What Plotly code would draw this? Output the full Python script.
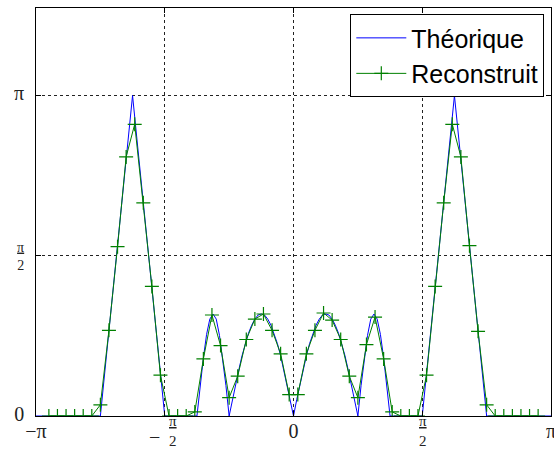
import math
import plotly.graph_objects as go

PI = math.pi

# Theoretical curve: x in units of pi, y in radians
X_THEO = [-1.0, -0.75, -0.625, -0.5, -0.375,
          -0.3625, -0.35, -0.3375, -0.325, -0.3125, -0.3, -0.2875, -0.275, -0.2625, -0.25,
          -0.2375, -0.225, -0.2125, -0.2, -0.1875, -0.175, -0.1625, -0.15, -0.1375, -0.125,
          -0.1125, -0.1, -0.0875, -0.075, -0.0625, -0.05, -0.0375, -0.025, -0.0125, 0.0,
          0.0125, 0.025, 0.0375, 0.05, 0.0625, 0.075, 0.0875, 0.1, 0.1125, 0.125,
          0.1375, 0.15, 0.1625, 0.175, 0.1875, 0.2, 0.2125, 0.225, 0.2375, 0.25,
          0.2625, 0.275, 0.2875, 0.3, 0.3125, 0.325, 0.3375, 0.35, 0.3625, 0.375,
          0.5, 0.625, 0.75, 1.0]
Y_THEO = [0.0, 0.0, 3.1416, 0.0, 0.0,
          0.31, 0.57, 0.80, 0.95, 1.0, 0.95, 0.79, 0.56, 0.30, 0.0,
          0.16, 0.31, 0.45, 0.59, 0.71, 0.81, 0.89, 0.95, 0.99, 1.0,
          0.99, 0.95, 0.89, 0.81, 0.71, 0.59, 0.45, 0.31, 0.16, 0.0,
          0.16, 0.31, 0.45, 0.59, 0.71, 0.81, 0.89, 0.95, 0.99, 1.0,
          0.99, 0.95, 0.89, 0.81, 0.71, 0.59, 0.45, 0.31, 0.16, 0.0,
          0.30, 0.56, 0.79, 0.95, 1.0, 0.95, 0.80, 0.57, 0.31, 0.0,
          0.0, 3.1416, 0.0, 0.0]

# Reconstructed samples: x in units of pi, y in radians
X_REC = [-0.95, -0.9167, -0.8833, -0.85, -0.8167, -0.7833, -0.75, -0.7167, -0.6833, -0.65,
         -0.6167, -0.5833, -0.55, -0.5167, -0.4833, -0.45, -0.4167, -0.3833, -0.35, -0.3167,
         -0.2833, -0.25, -0.2167, -0.1833, -0.15, -0.1167, -0.0833, -0.05, -0.0167,
         0.0167, 0.05, 0.0833, 0.1167, 0.15, 0.1833, 0.2167, 0.25, 0.2833, 0.3167,
         0.35, 0.3833, 0.4167, 0.45, 0.4833, 0.5167, 0.55, 0.5833, 0.6167, 0.65,
         0.6833, 0.7167, 0.75, 0.7833, 0.8167, 0.85, 0.8833, 0.9167, 0.95]
Y_REC = [0.0, 0.0, 0.0, 0.0, 0.0, 0.0, 0.11, 0.84, 1.66, 2.54,
         2.86, 2.09, 1.27, 0.40, 0.0, 0.0, 0.0, 0.04, 0.56, 0.99,
         0.69, 0.18, 0.39, 0.75, 0.95, 1.00, 0.84, 0.61, 0.21,
         0.21, 0.61, 0.84, 1.01, 0.94, 0.75, 0.39, 0.18, 0.70, 0.97,
         0.56, 0.04, 0.0, 0.0, 0.0, 0.40, 1.27, 2.09, 2.86, 2.54,
         1.67, 0.83, 0.11, 0.0, 0.0, 0.0, 0.0, 0.0, 0.0]

SERIES_NAMES = ["Théorique", "Reconstruit"]

SERIF = "Liberation Serif, Times New Roman, serif"
BIG = "<span style='font-size:20px'>{}</span>"
FRAC = "<u>π</u><br>2"

X_TICKS = [-1, -0.5, 0, 0.5, 1]
X_TICK_TEXT = [BIG.format("−π"), "", BIG.format("0"), "", BIG.format("π")]
X_FRAC_TICKS = [-0.5, 0.5]
X_FRAC_SIGNS = ["−", ""]
Y_TICKS_PI = [0, 0.5, 1]
Y_TICK_TEXT = [BIG.format("0"), FRAC, BIG.format("π")]
Y_RANGE = [0, 4]

fig = go.Figure()
fig.add_trace(go.Scatter(x=X_THEO, y=Y_THEO, mode="lines", name=SERIES_NAMES[0],
                         line=dict(color="#0000FF", width=1)))
fig.add_trace(go.Scatter(x=X_REC, y=Y_REC, mode="lines+markers", name=SERIES_NAMES[1],
                         line=dict(color="#008000", width=1),
                         marker=dict(symbol="cross-thin-open", size=10,
                                     line=dict(color="#008000", width=1.2))))

axis_common = dict(showline=True, mirror="ticks", linecolor="black", linewidth=1,
                   ticks="inside", ticklen=5, tickcolor="black", automargin=False,
                   showgrid=True, gridcolor="#222222", griddash="3px,3px", gridwidth=1,
                   zeroline=False, ticklabeloverflow="allow",
                   tickfont=dict(family=SERIF, size=14, color="#222"))

fig.update_xaxes(range=[-1, 1], tickmode="array", tickvals=X_TICKS, ticktext=X_TICK_TEXT,
                 ticklabelstandoff=4, **axis_common)
fig.update_yaxes(range=Y_RANGE, tickmode="array", tickvals=[v * PI for v in Y_TICKS_PI],
                 ticktext=Y_TICK_TEXT, ticklabelstandoff=8, **axis_common)

# Stacked-fraction tick labels for -pi/2 and pi/2
for xv, sign in zip(X_FRAC_TICKS, X_FRAC_SIGNS):
    shift = 8 if sign else 1
    fig.add_annotation(x=xv, xref="x", y=0, yref="paper", yanchor="top", xanchor="center",
                       text=FRAC, showarrow=False, xshift=shift, yshift=5,
                       font=dict(family=SERIF, size=15, color="#222"))
    if sign:
        fig.add_annotation(x=xv, xref="x", y=0, yref="paper", yanchor="top", xanchor="center",
                           text=sign, showarrow=False, xshift=-10, yshift=-8,
                           font=dict(family=SERIF, size=20, color="#222"))

fig.update_layout(
    width=554, height=451,
    margin=dict(l=36, r=3, t=8, b=35),
    paper_bgcolor="white", plot_bgcolor="white",
    showlegend=True,
    legend=dict(x=0.987, y=0.985, xanchor="right", yanchor="top",
                bordercolor="black", borderwidth=1, bgcolor="white",
                font=dict(family="Liberation Sans, Arial, sans-serif", size=25, color="black"),
                itemwidth=50, tracegroupgap=0),
)

fig.write_html("out.html", config={"displayModeBar": False},
               post_script="document.body.style.margin='0';document.body.style.overflow='hidden';")
